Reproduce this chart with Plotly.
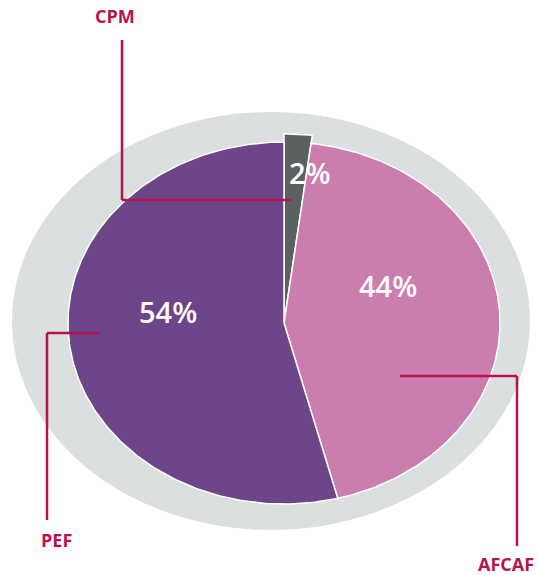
import numpy as np
import plotly.graph_objects as go

# ---- data ----
categories = ["CPM", "AFCAF", "PEF"]
values = [2, 44, 54]
pct_labels = ["2%", "44%", "54%"]
colors = ["#5B6061", "#CB7DAE", "#6C4688"]

# ---- geometry (pixel-like axes) ----
W, H = 538, 575
cx, cy = 284, 323
rx, ry = 216, 181
radius_scale = [1.045, 1.0, 1.0]

fig = go.Figure()

# background ellipse
fig.add_shape(type="circle", xref="x", yref="y", x0=12, x1=530, y0=112, y1=530,
              fillcolor="#DCDFDF", line=dict(width=0), layer="below")

total = sum(values)
start = 0.0
for cat, v, col, rs in zip(categories, values, colors, radius_scale):
    a0 = start / total * 2 * np.pi
    a1 = (start + v) / total * 2 * np.pi
    t = np.linspace(a0, a1, max(int(v * 4), 8))
    xs = np.concatenate([[cx], cx + rx * rs * np.sin(t), [cx]])
    ys = np.concatenate([[cy], cy - ry * rs * np.cos(t), [cy]])
    fig.add_trace(go.Scatter(x=xs, y=ys, mode="lines", fill="toself",
                             fillcolor=col, line=dict(color="white", width=1.5),
                             name=cat, hoverinfo="name", showlegend=False))
    start += v

# percent labels
lab_pos = {"CPM": (310, 172), "AFCAF": (388, 285), "PEF": (168, 311)}
for cat, lab in zip(categories, pct_labels):
    x, y = lab_pos[cat]
    fig.add_annotation(x=x, y=y, xref="x", yref="y", text=lab,
                       showarrow=False,
                       font=dict(family="Open Sans", size=29, weight=600, color="white"),
                       xanchor="center", yanchor="middle")

# leader lines
lc = "#B8124F"
leaders = [
    [(122, 40), (122, 200), (292, 200)],
    [(100, 333), (47, 333), (47, 520)],
    [(400, 376), (517, 376), (517, 546)],
]
for pts in leaders:
    for (x0, y0), (x1, y1) in zip(pts[:-1], pts[1:]):
        fig.add_shape(type="line", xref="x", yref="y", x0=x0, y0=y0, x1=x1, y1=y1,
                      line=dict(color=lc, width=2.5))

name_pos = {"CPM": (115, 16, "center"), "PEF": (56, 540, "center"),
            "AFCAF": (536, 564, "right")}
for cat in categories:
    x, y, anc = name_pos[cat]
    fig.add_annotation(x=x, y=y, xref="x", yref="y", text="<b>%s</b>" % cat,
                       showarrow=False,
                       font=dict(family="Open Sans", size=18, color=lc),
                       xanchor=anc, yanchor="middle")

fig.update_xaxes(range=[0, W], visible=False, fixedrange=True)
fig.update_yaxes(range=[H, 0], visible=False, fixedrange=True)
fig.update_layout(width=W, height=H, margin=dict(l=0, r=0, t=0, b=0),
                  paper_bgcolor="white", plot_bgcolor="white", showlegend=False)

fig.write_html("out.html", config={"displayModeBar": False},
               post_script="document.body.style.margin='0';document.body.style.overflow='hidden';")
